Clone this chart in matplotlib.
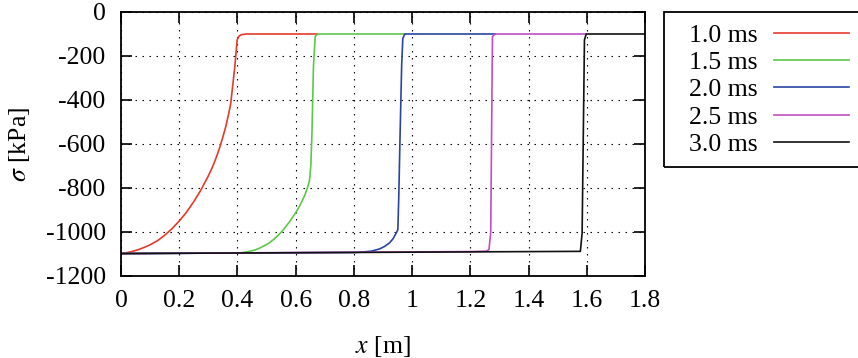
import matplotlib
matplotlib.use("Agg")
import matplotlib.pyplot as plt
from matplotlib.patches import Rectangle

# curves (x in m, sigma in kPa)
x_10 = [0, 0.02, 0.04, 0.06, 0.08, 0.10, 0.125, 0.15, 0.175, 0.2, 0.225, 0.25,
        0.275, 0.3, 0.31, 0.32, 0.33, 0.34, 0.35, 0.36, 0.37, 0.377, 0.385, 0.391,
        0.399, 0.405, 0.413, 0.43, 0.675]
s_10 = [-1098, -1094, -1088, -1080, -1070, -1058, -1040, -1015, -985, -950, -910,
        -862, -808, -745, -717, -686, -651, -612, -568, -520, -462, -415, -320,
        -248, -127, -110, -103, -100, -100]

x_15 = [0, 0.41, 0.441, 0.46, 0.475, 0.49, 0.509, 0.525, 0.54, 0.555, 0.567,
        0.58, 0.59, 0.602, 0.613, 0.623, 0.632, 0.64, 0.647, 0.652, 0.656, 0.661,
        0.667, 0.675, 0.975]
s_15 = [-1098, -1095, -1088, -1082, -1074, -1064, -1050, -1033, -1015, -994, -974,
        -952, -932, -908, -883, -857, -830, -800, -770, -700, -550, -250, -112,
        -100, -100]

x_20 = [0, 0.80, 0.831, 0.86, 0.888, 0.905, 0.922, 0.935, 0.945, 0.951, 0.954,
        0.958, 0.964, 0.968, 0.975, 1.285]
s_20 = [-1098, -1093, -1091, -1087, -1077, -1066, -1050, -1030, -1005, -990,
        -850, -600, -249, -120, -100, -100]

x_25 = [0, 1.2, 1.255, 1.264, 1.27, 1.276, 1.285, 1.598]
s_25 = [-1098, -1089, -1087, -1080, -1004, -112, -100, -100]

x_30 = [0, 1.578, 1.584, 1.592, 1.598, 1.8]
s_30 = [-1098, -1088, -1004, -127, -100, -100]

labels = ["1.0 ms", "1.5 ms", "2.0 ms", "2.5 ms", "3.0 ms"]
colors = ["#e8392b", "#5cc84a", "#2a44a6", "#c04fc0", "#111111"]

plt.rcParams['font.family'] = ['Liberation Serif', 'DejaVu Serif']
plt.rcParams['mathtext.fontset'] = 'stix'
plt.rcParams['axes.unicode_minus'] = False
fs = 18.5

W, H = 858, 358
fig = plt.figure(figsize=(W / 100, H / 100), dpi=100)
ax = fig.add_axes([121 / W, 1 - 276 / H, 524 / W, 264 / H])

series = [(x_10, s_10), (x_15, s_15), (x_20, s_20), (x_25, s_25), (x_30, s_30)]
for (xs, ys), lab, c in zip(series, labels, colors):
    ax.plot(xs, ys, color=c, lw=1.2, label=lab)

ax.set_xlim(0, 1.8)
ax.set_ylim(-1200, 0)
ax.set_xticks([0, 0.2, 0.4, 0.6, 0.8, 1.0, 1.2, 1.4, 1.6, 1.8])
ax.set_xticklabels(["0", "0.2", "0.4", "0.6", "0.8", "1", "1.2", "1.4", "1.6", "1.8"])
ax.set_yticks(range(-1200, 1, 200))
ax.grid(True, color='black', lw=0.8, linestyle=(0, (1.3, 5.0)))
ax.tick_params(direction='in', length=8, width=1.2, top=True, right=True,
               labelsize=fs)
ax.tick_params(axis='x', pad=10)
ax.tick_params(axis='y', pad=11)
for sp in ax.spines.values():
    sp.set_linewidth(1.3)

ax.set_xlabel(r'$x$ [m]', fontsize=fs, labelpad=16)
ax.set_ylabel(r'$\sigma$ [kPa]', fontsize=fs, labelpad=10)

leg = ax.legend(loc='center', bbox_to_anchor=(769 / W, 1 - 90 / H),
                bbox_transform=fig.transFigure, frameon=False, fontsize=fs,
                markerfirst=False, handlelength=2.9, handletextpad=0.65,
                labelspacing=0.17, borderpad=0, borderaxespad=0)
fig.add_artist(Rectangle((664 / W, 1 - 167 / H), 220 / W, 155 / H,
                         transform=fig.transFigure, fill=False, lw=1.3,
                         edgecolor='black'))

fig.savefig('out.png', dpi=100)
